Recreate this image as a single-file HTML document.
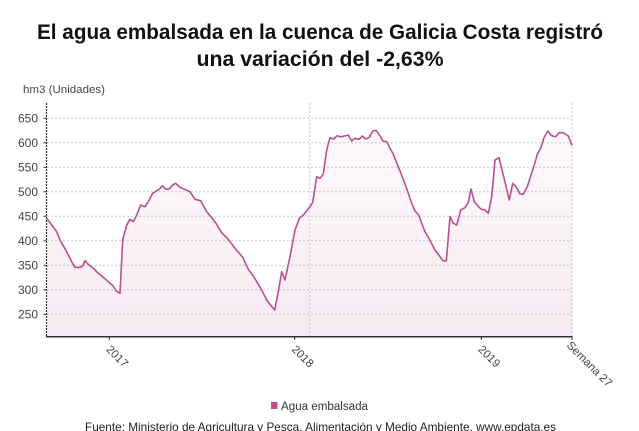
<!DOCTYPE html>
<html>
<head>
<meta charset="utf-8">
<style>
html,body{margin:0;padding:0;background:#fff;}
svg{display:block;}
text{font-family:"Liberation Sans",sans-serif;}
</style>
</head>
<body>
<svg width="639" height="431" viewBox="0 0 639 431" xmlns="http://www.w3.org/2000/svg">
<defs>
<linearGradient id="fg" x1="0" y1="104" x2="0" y2="337" gradientUnits="userSpaceOnUse">
<stop offset="0" stop-color="#b9508f" stop-opacity="0.02"/>
<stop offset="1" stop-color="#b9508f" stop-opacity="0.12"/>
</linearGradient>
</defs>
<rect width="639" height="431" fill="#fff"/>

<!-- Title -->
<text x="320" y="39" text-anchor="middle" font-size="21.5" font-weight="bold" fill="#111" textLength="566" lengthAdjust="spacingAndGlyphs">El agua embalsada en la cuenca de Galicia Costa registró</text>
<text x="320" y="66" text-anchor="middle" font-size="21.5" font-weight="bold" fill="#111" textLength="247" lengthAdjust="spacingAndGlyphs">una variación del -2,63%</text>

<!-- Y axis title -->
<text x="23" y="93" font-size="11" fill="#444" textLength="82" lengthAdjust="spacingAndGlyphs">hm3 (Unidades)</text>

<!-- Area fill -->
<polygon fill="url(#fg)" points="46.7,336.7 46.7,218.3 51.7,225 56.7,231.7 60,240 66.7,251.7 71.7,261.7 75,267.3 80,267.3 82.7,266 85,260.7 88.3,264.3 93.3,268.3 98.3,273.3 103.3,277.3 108.3,281.7 113.3,286 116,290.7 120,293.3 122.7,240 126.7,225 130,219.3 133.3,221.7 136.7,215 140.7,205 145,206.7 148.3,201.7 152.7,193.3 156.7,190.7 159.3,189.3 162.3,185.7 166,189.3 169.3,189 172.7,185 175.7,183.3 179.3,186.7 180,187.3 190,191.7 195,199.3 200.7,200.7 206.7,211.7 215,221.7 221.7,232.7 228.3,239.3 235,248.3 242.7,257.3 248.3,269.3 253.3,276 260.7,288.3 267.3,301 274.7,310 278.3,291.7 281.7,271.7 285,280 290,256.7 295,230 299.3,218.3 303.3,215 310,206.7 312.7,202.3 316.7,176.7 320,178.3 323.3,174.3 326.7,150 330,137.7 333.3,139 337.3,135.7 340.7,137 348.3,135 351.7,141 355,138.3 359.3,139.3 362.3,136 365.7,139 369.3,137.3 372.7,131 376,130.3 380,135.7 382.7,141 386.7,141.7 390,148.3 393.3,154.3 400,171 406,186.7 411.7,203.3 415,211 418.3,214.3 425,231.7 429.3,239 435,250 440,256.7 443.3,261 446.3,261 450,216.7 453.3,223.3 456.7,225 460.7,210 465,207.7 468.3,202.3 471,189 474.3,201.7 477.3,205 480.7,209 485,210 488.3,213.3 491.7,196.7 495,160 499,157.7 503.3,175 509.3,200 512.7,183.3 516.7,187.7 520,194 523.3,194.3 527.3,186.7 530,178.3 533.3,168.3 537.3,154.3 540.7,148.3 544,137.7 547.7,131 551.7,135.7 555.7,136.7 559,132.7 563.3,132.7 568.3,136 572,145.7 572,336.7"/>

<!-- Grid -->
<g stroke="#c8c8c8" stroke-width="1" stroke-dasharray="2,2" fill="none">
<line x1="47" y1="118.3" x2="572" y2="118.3"/>
<line x1="47" y1="142.8" x2="572" y2="142.8"/>
<line x1="47" y1="167.3" x2="572" y2="167.3"/>
<line x1="47" y1="191.8" x2="572" y2="191.8"/>
<line x1="47" y1="216.3" x2="572" y2="216.3"/>
<line x1="47" y1="240.8" x2="572" y2="240.8"/>
<line x1="47" y1="265.3" x2="572" y2="265.3"/>
<line x1="47" y1="289.8" x2="572" y2="289.8"/>
<line x1="47" y1="314.3" x2="572" y2="314.3"/>
<line x1="309.7" y1="103" x2="309.7" y2="336"/>
<line x1="572" y1="103" x2="572" y2="336"/>
</g>

<!-- Y axis -->
<line x1="46.5" y1="103" x2="46.5" y2="337" stroke="#333" stroke-width="1.2" stroke-dasharray="2,1"/>
<g stroke="#333" stroke-width="1">
<line x1="43.5" y1="118.3" x2="46.5" y2="118.3"/>
<line x1="43.5" y1="142.8" x2="46.5" y2="142.8"/>
<line x1="43.5" y1="167.3" x2="46.5" y2="167.3"/>
<line x1="43.5" y1="191.8" x2="46.5" y2="191.8"/>
<line x1="43.5" y1="216.3" x2="46.5" y2="216.3"/>
<line x1="43.5" y1="240.8" x2="46.5" y2="240.8"/>
<line x1="43.5" y1="265.3" x2="46.5" y2="265.3"/>
<line x1="43.5" y1="289.8" x2="46.5" y2="289.8"/>
<line x1="43.5" y1="314.3" x2="46.5" y2="314.3"/>
</g>
<g font-size="12" fill="#444" text-anchor="end">
<text x="38" y="122.5">650</text>
<text x="38" y="147">600</text>
<text x="38" y="171.5">550</text>
<text x="38" y="196">500</text>
<text x="38" y="220.5">450</text>
<text x="38" y="245">400</text>
<text x="38" y="269.5">350</text>
<text x="38" y="294">300</text>
<text x="38" y="318.5">250</text>
</g>

<!-- X axis -->
<line x1="46" y1="336.7" x2="572.5" y2="336.7" stroke="#333" stroke-width="1.5"/>
<g stroke="#333" stroke-width="1">
<line x1="109.3" y1="336.7" x2="109.3" y2="340"/>
<line x1="294.7" y1="336.7" x2="294.7" y2="340"/>
<line x1="481.3" y1="336.7" x2="481.3" y2="340"/>
<line x1="572" y1="336.7" x2="572" y2="340"/>
</g>
<g font-size="11.5" fill="#444">
<text transform="translate(105.5,350) rotate(45)">2017</text>
<text transform="translate(291,350) rotate(45)">2018</text>
<text transform="translate(477.5,350) rotate(45)">2019</text>
<text transform="translate(566,346) rotate(45)">Semana 27</text>
</g>

<!-- Line -->
<polyline fill="none" stroke="#b9508f" stroke-width="1.6" stroke-linejoin="round" points="46.7,218.3 51.7,225 56.7,231.7 60,240 66.7,251.7 71.7,261.7 75,267.3 80,267.3 82.7,266 85,260.7 88.3,264.3 93.3,268.3 98.3,273.3 103.3,277.3 108.3,281.7 113.3,286 116,290.7 120,293.3 122.7,240 126.7,225 130,219.3 133.3,221.7 136.7,215 140.7,205 145,206.7 148.3,201.7 152.7,193.3 156.7,190.7 159.3,189.3 162.3,185.7 166,189.3 169.3,189 172.7,185 175.7,183.3 179.3,186.7 180,187.3 190,191.7 195,199.3 200.7,200.7 206.7,211.7 215,221.7 221.7,232.7 228.3,239.3 235,248.3 242.7,257.3 248.3,269.3 253.3,276 260.7,288.3 267.3,301 274.7,310 278.3,291.7 281.7,271.7 285,280 290,256.7 295,230 299.3,218.3 303.3,215 310,206.7 312.7,202.3 316.7,176.7 320,178.3 323.3,174.3 326.7,150 330,137.7 333.3,139 337.3,135.7 340.7,137 348.3,135 351.7,141 355,138.3 359.3,139.3 362.3,136 365.7,139 369.3,137.3 372.7,131 376,130.3 380,135.7 382.7,141 386.7,141.7 390,148.3 393.3,154.3 400,171 406,186.7 411.7,203.3 415,211 418.3,214.3 425,231.7 429.3,239 435,250 440,256.7 443.3,261 446.3,261 450,216.7 453.3,223.3 456.7,225 460.7,210 465,207.7 468.3,202.3 471,189 474.3,201.7 477.3,205 480.7,209 485,210 488.3,213.3 491.7,196.7 495,160 499,157.7 503.3,175 509.3,200 512.7,183.3 516.7,187.7 520,194 523.3,194.3 527.3,186.7 530,178.3 533.3,168.3 537.3,154.3 540.7,148.3 544,137.7 547.7,131 551.7,135.7 555.7,136.7 559,132.7 563.3,132.7 568.3,136 572,145.7"/>

<!-- Legend -->
<rect x="271" y="402" width="6.5" height="7" fill="#b9508f"/>
<text x="281" y="410" font-size="11.5" fill="#333" textLength="87" lengthAdjust="spacingAndGlyphs">Agua embalsada</text>

<!-- Source -->
<text x="320.5" y="431" text-anchor="middle" font-size="12" fill="#222" textLength="471" lengthAdjust="spacingAndGlyphs">Fuente: Ministerio de Agricultura y Pesca, Alimentación y Medio Ambiente. www.epdata.es</text>
</svg>
</body>
</html>
